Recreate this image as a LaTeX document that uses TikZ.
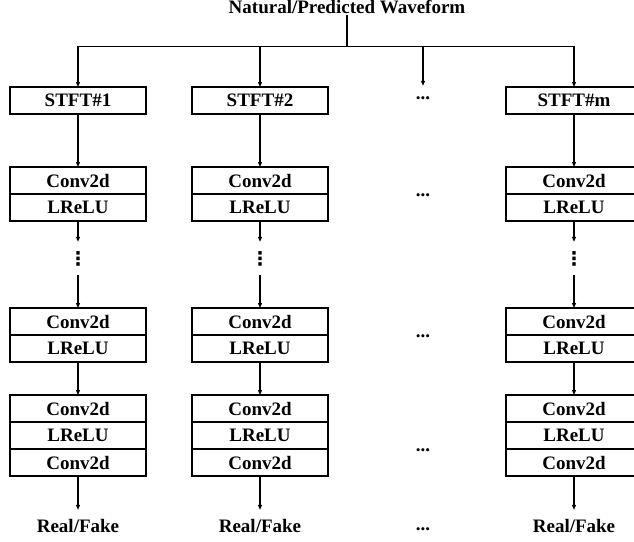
\documentclass[tikz,border=0pt]{standalone}
\usepackage{fontspec}
\setmainfont{Liberation Serif}
\newfontfamily\simbolos{DejaVu Sans}
\usepackage{tikz}
\usetikzlibrary{positioning,arrows.meta}
\newcommand{\vpuntos}{{\simbolos ⋮}}
\tikzset{
  letra/.style={font=\fontsize{19pt}{22pt}\selectfont\bfseries},
  celda/.style={rectangle, draw, line width=1.6pt, minimum width=136pt,
    minimum height=27pt, inner sep=0pt, outer sep=0pt, letra},
  puntosv/.style={minimum height=33pt, inner sep=0pt, letra},
  puntos/.style={inner sep=0pt, letra},
  salida/.style={minimum height=32pt, inner sep=0pt, letra},
  flecha/.style={-{Triangle[length=5pt,width=4pt]}, line width=1.1pt},
}
\begin{document}
\begin{tikzpicture}[x=1pt,y=-1pt]
  \useasboundingbox (0,0) rectangle (634,541);
  \node[letra, anchor=base, inner sep=2pt] (titulo) at (347,13) {Natural/Predicted Waveform};
  \coordinate (bifur) at (347,46.7);
  \draw[line width=1.1pt] (titulo) -- (bifur);
  % columnas de discriminadores
  \foreach \c/\x/\n in {1/78/1, 2/260/2, 3/574/m} {
    \node[celda] (stft\c) at (\x,100.5) {STFT\#\n};
    \node[celda] (a1\c) at (\x,180.5) {Conv2d};
    \node[celda, below=0pt of a1\c] (a2\c) {LReLU};
    \node[puntosv] (v\c) at (\x,258.5) {\vpuntos};
    \node[celda] (b1\c) at (\x,321.5) {Conv2d};
    \node[celda, below=0pt of b1\c] (b2\c) {LReLU};
    \node[celda] (c1\c) at (\x,408.5) {Conv2d};
    \node[celda, below=0pt of c1\c] (c2\c) {LReLU};
    \node[celda, below=0pt of c2\c] (c3\c) {Conv2d};
    \node[salida] (rf\c) at (\x,526) {Real/Fake};
    \draw[flecha] (bifur) -| (stft\c.north);
    \draw[flecha] (stft\c) -- (a1\c);
    \draw[flecha] (a2\c) -- (v\c);
    \draw[flecha] (v\c) -- (b1\c);
    \draw[flecha] (b2\c) -- (c1\c);
    \draw[flecha] (c3\c) -- (rf\c);
  }
  % columna de puntos suspensivos
  \node[puntos, minimum height=24pt] (p0) at (423,98) {...};
  \node[puntos] (p1) at (423,195) {...};
  \node[puntos] (p2) at (423,336) {...};
  \node[puntos] (p3) at (423,450) {...};
  \node[puntos] (p4) at (423,529) {...};
  \draw[flecha] (bifur) -| (p0.north);
\end{tikzpicture}
\end{document}
